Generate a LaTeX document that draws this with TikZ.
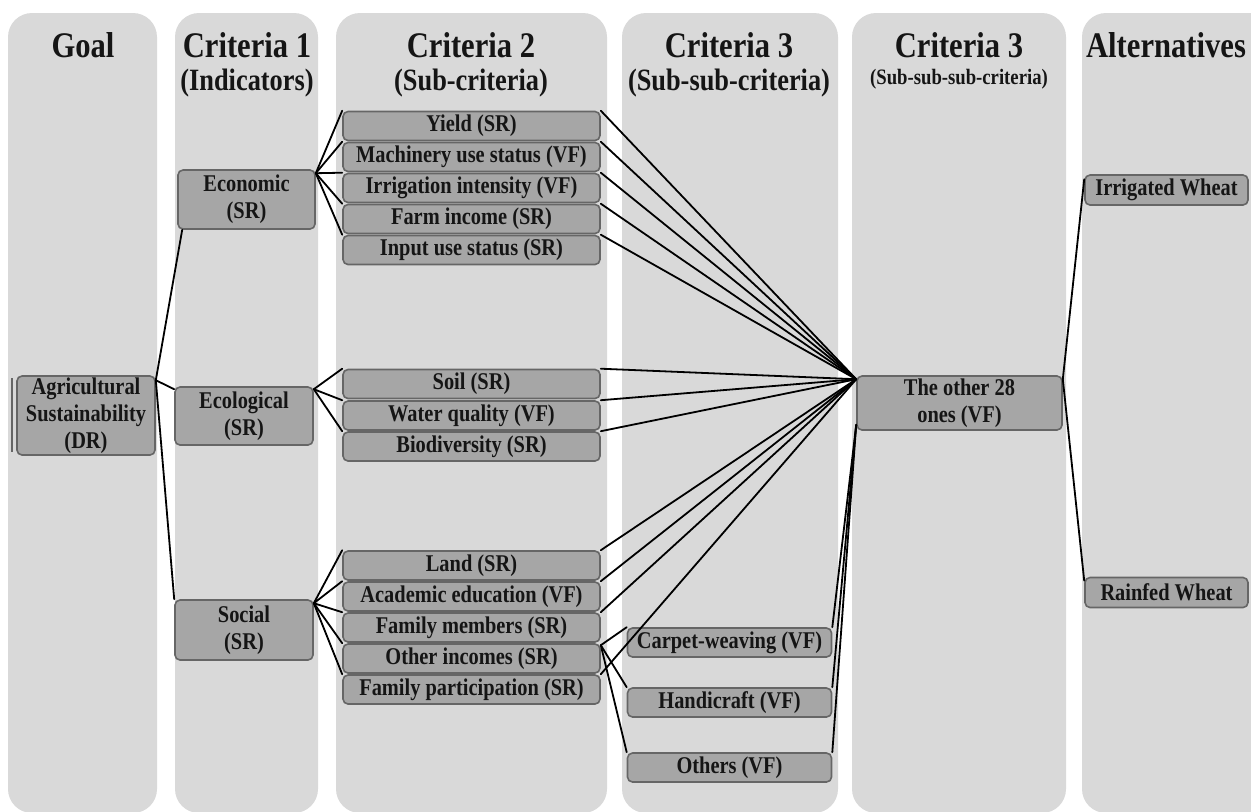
\documentclass[tikz,border=0pt]{standalone}
\usepackage{fontspec}
\setmainfont{Liberation Serif}[FakeStretch=0.85]
\usepackage{xcolor}
\usepackage{tikz}
\definecolor{colbg}{HTML}{D9D9D9}
\definecolor{boxfill}{HTML}{A6A6A6}
\definecolor{boxline}{HTML}{666666}
\definecolor{ink}{HTML}{151515}
\tikzset{
  col/.style={fill=colbg, rounded corners=12pt},
  box/.style={draw=boxline, fill=boxfill, line width=0.8pt, rounded corners=2.5pt,
    inner sep=0pt, align=center, text=ink, font=\fontsize{12}{13.5}\selectfont\bfseries},
  hd/.style={text=ink, font=\fontsize{18}{20}\selectfont\bfseries},
  sub/.style={text=ink, font=\fontsize{15.5}{18}\selectfont\bfseries},
  subs/.style={text=ink, font=\fontsize{11}{13}\selectfont\bfseries},
  link/.style={draw=black, line width=0.9pt, line cap=round},
}

\begin{document}
\begin{tikzpicture}[x=0.5pt, y=-0.5pt]
  \useasboundingbox (0,0) rectangle (1251,811);
  \clip (0,0) rectangle (1251,811);
  % columns
  \fill[col] (8,13) rectangle (157,813);
  \fill[col] (175,13) rectangle (318,813);
  \fill[col] (336,13) rectangle (607,813);
  \fill[col] (622,13) rectangle (838,813);
  \fill[col] (852,13) rectangle (1066,813);
  \fill[col] (1082,13) rectangle (1300,813);
  % headings
  \node[hd] (hgoal) at (83,45) {Goal};
  \node[hd] (hc1) at (247,45) {Criteria 1};
  \node[sub] (sc1) at (247,83) {(Indicators)};
  \node[hd] (hc2) at (471,45) {Criteria 2};
  \node[sub] (sc2) at (471,83) {(Sub-criteria)};
  \node[hd] (hc3) at (729,45) {Criteria 3};
  \node[sub] (sc3) at (729,83) {(Sub-sub-criteria)};
  \node[hd] (hc4) at (959,45) {Criteria 3};
  \node[subs] (sc4) at (959,79) {(Sub-sub-sub-criteria)};
  \node[hd] (halt) at (1166,45) {Alternatives};

  % goal and indicators
  \draw[boxline, line width=0.8pt] (12,378) -- (12,452);
  \node[box, minimum width=69pt, minimum height=39.5pt] (goal) at (86,415.5)
    {Agricultural\\Sustainability\\(DR)};
  \node[box, minimum width=68.5pt, minimum height=29.5pt] (eco) at (246.5,199.5) {Economic\\(SR)};
  \node[box, minimum width=69pt, minimum height=29pt] (ecol) at (244,416) {Ecological\\(SR)};
  \node[box, minimum width=69pt, minimum height=30pt] (soc) at (244,630) {Social\\(SR)};

  % sub-criteria
  \foreach \n/\y/\t in {yld/126/Yield (SR), mach/157/Machinery use status (VF),
      irr/188/Irrigation intensity (VF), farm/219/Farm income (SR),
      inp/250/Input use status (SR), soil/384/Soil (SR), wat/415.5/Water quality (VF),
      bio/446.5/Biodiversity (SR), land/565.5/Land (SR), acad/596.5/Academic education (VF),
      fmem/627.5/Family members (SR), oinc/658.5/Other incomes (SR),
      fpart/689.5/Family participation (SR)}
    \node[box, minimum width=128.5pt, minimum height=14.5pt] (\n) at (471.5,\y) {\t};

  % sub-sub-criteria
  \foreach \n/\y/\t in {carp/642.5/Carpet-weaving (VF), hand/702.5/Handicraft (VF),
      oth/767.5/Others (VF)}
    \node[box, minimum width=102pt, minimum height=14.5pt] (\n) at (729.5,\y) {\t};

  \node[box, minimum width=102.5pt, minimum height=27pt] (o28) at (959.5,403) {The other 28\\ones (VF)};
  \node[box, minimum width=81.5pt, minimum height=15pt] (irw) at (1166.5,190) {Irrigated Wheat};
  \node[box, minimum width=81.5pt, minimum height=15pt] (rfw) at (1166.5,592.5) {Rainfed Wheat};

  % connectors
  \coordinate (gp) at ([yshift=-2.5pt]goal.north east);
  \draw[link] (gp) -- ([xshift=2.5pt]eco.south west);
  \draw[link] (gp) -- ([yshift=-1.5pt]ecol.north west);
  \draw[link] (gp) -- (soc.north west);
  \foreach \n in {yld,mach,irr,farm,inp}
    \draw[link] ([yshift=-2pt]eco.north east) -- (\n.north west);
  \foreach \n in {soil,wat,bio}
    \draw[link] ([yshift=-1.5pt]ecol.north east) -- (\n.north west);
  \foreach \n in {land,acad,fmem,oinc,fpart}
    \draw[link] ([yshift=-2pt]soc.north east) -- (\n.north west);
  \foreach \n in {carp,hand,oth}
    \draw[link] ([yshift=-1pt]oinc.north east) -- (\n.north west);
  \coordinate (hub) at ([yshift=-2pt]o28.north west);
  \coordinate (hubl) at ([yshift=3pt]o28.south west);
  \foreach \n in {yld,mach,irr,farm,inp,soil,wat,bio,land,acad,fmem,fpart}
    \draw[link] (\n.north east) -- (hub);
  \foreach \n in {carp,hand,oth}
    \draw[link] (\n.north east) -- (hubl);
  \coordinate (op) at ([yshift=-2pt]o28.north east);
  \draw[link] (op) -- ([yshift=-2.5pt]irw.north west);
  \draw[link] (op) -- ([yshift=-2pt]rfw.north west);
\end{tikzpicture}
\end{document}
